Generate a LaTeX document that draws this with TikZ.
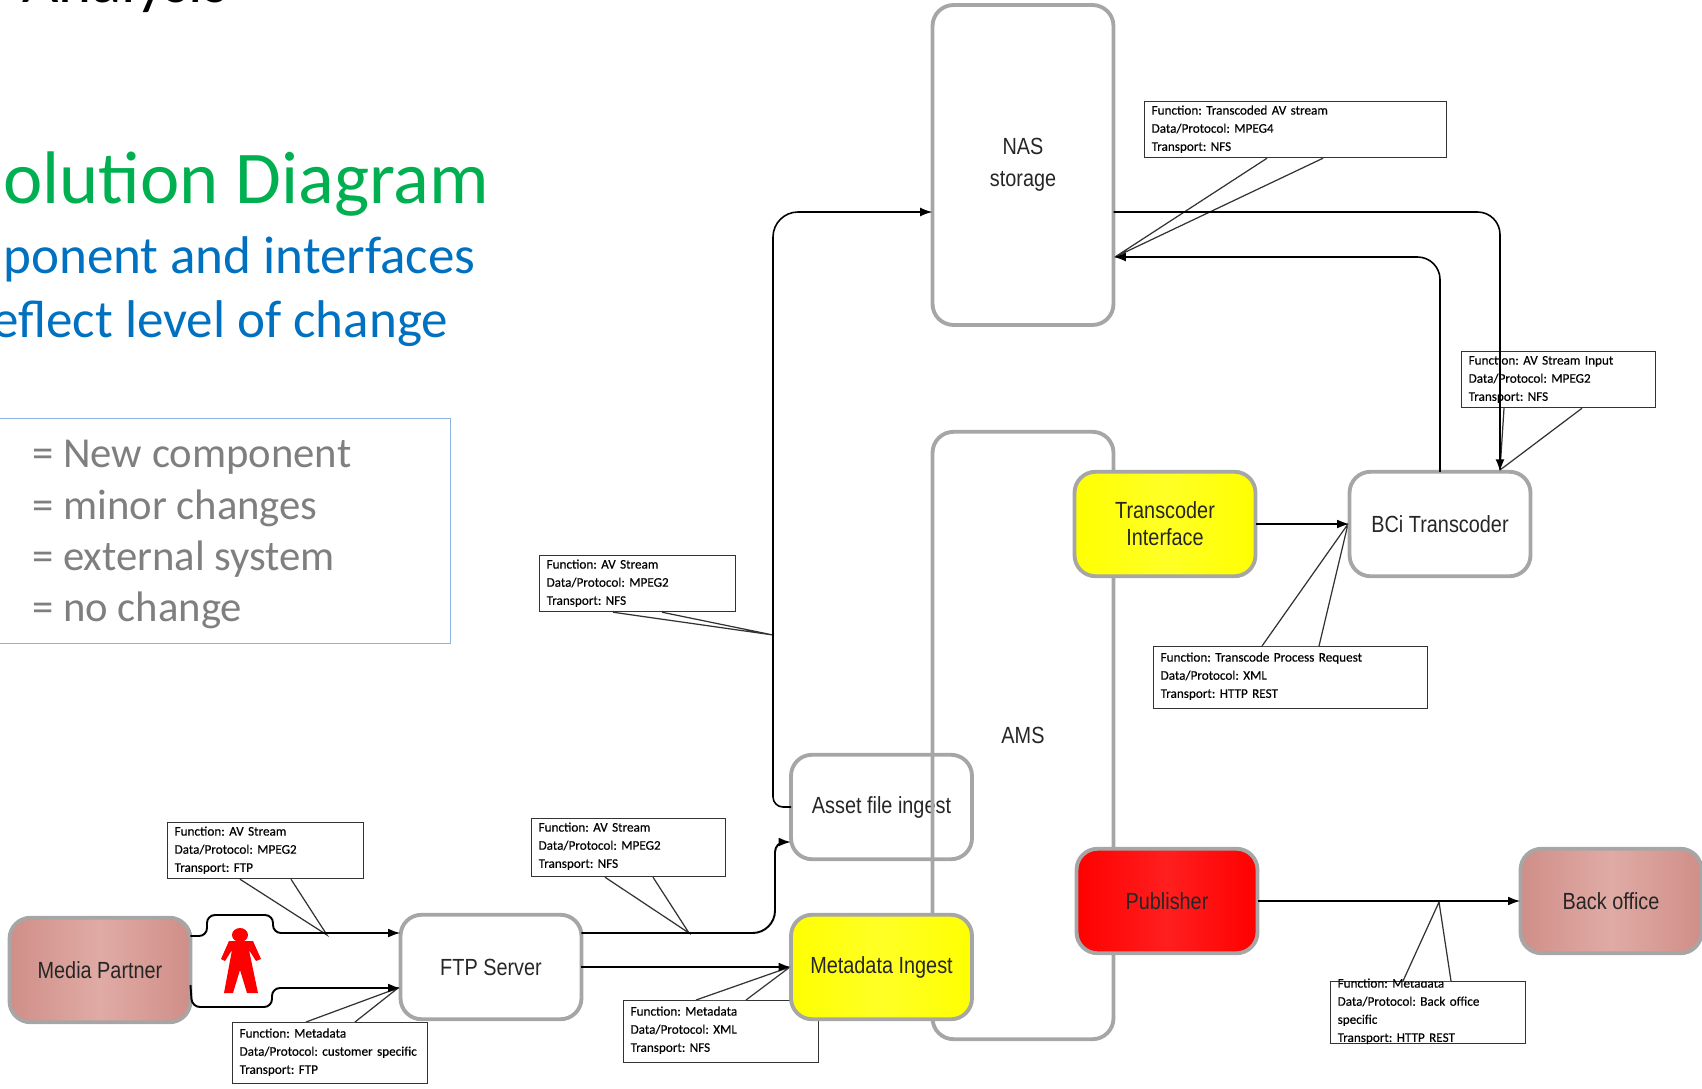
\documentclass[tikz,border=0pt]{standalone}
\usepackage{fontspec}
\setmainfont{Carlito}
\newfontfamily\boxfont[FakeStretch=0.85]{Liberation Sans}
\newfontfamily\callfont[FakeBold=0.35]{Carlito}
\usetikzlibrary{calc,arrows.meta,positioning}

\definecolor{boxgray}{HTML}{A6A6A6}
\definecolor{partnerred}{HTML}{D08E88}
\definecolor{partnerlight}{HTML}{E0ABA5}
\definecolor{solgreen}{HTML}{00B050}
\definecolor{solblue}{HTML}{0070C0}
\definecolor{legendblue}{HTML}{8EB4E3}
\definecolor{legendgray}{HTML}{7F7F7F}

\newcommand{\calltail}[5]{
  \fill[white] (#3,0 |- #1.#2) -- (#5) -- (#4,0 |- #1.#2) -- cycle;
  \draw[tail] (#3,0 |- #1.#2) -- (#5) -- (#4,0 |- #1.#2);
}

\begin{document}
\frenchspacing
\begin{tikzpicture}[x=0.02cm, y=-0.02cm, >={Latex[length=7pt,width=5pt]},
    box/.style={draw=boxgray, line width=2.2pt, rounded corners=0.42cm, minimum width=3.62cm,
      minimum height=2.09cm, align=center, inner sep=0pt, outer sep=0pt,
      font=\boxfont\fontsize{13.3}{18}\selectfont, text=black!85},
    external/.style={box, left color=partnerred, right color=partnerred, middle color=partnerlight},
    minor/.style={box, left color=yellow, right color=yellow, middle color=yellow!85!white},
    newcomp/.style={box, left color=red, right color=red, middle color=red!88!white},
    callout/.style={draw=black!80, line width=0.7pt, fill=white, anchor=north west, align=left,
      inner xsep=0.14cm, inner ysep=0pt, text width=#1, text height=0.26cm, text depth=0.86cm,
      font=\callfont\fontsize{7.5}{10.3}\selectfont},
    tail/.style={draw=black!80, line width=0.7pt},
    flow/.style={->, line width=1.1pt, rounded corners=0.45cm},
    bigtitle/.style={anchor=west, inner sep=0pt, text=solgreen, font=\fontsize{42.4}{46}\selectfont},
    subtitle/.style={anchor=west, inner sep=0pt, text=solblue, font=\fontsize{30.2}{34}\selectfont},
    legendtext/.style={anchor=west, inner sep=0pt, text=legendgray, font=\fontsize{24.3}{28}\selectfont}]
  \clip (0,0) rectangle (1702,1088);

  % texts on the left
  \node[anchor=base west, inner sep=0pt, font=\fontsize{35.8}{40}\selectfont] (analysis) at (22,3) {Analysis};
  \node[bigtitle] (soltitle) at (3,184) {olution Diagram};
  \node[subtitle] (sub1) at (3,259) {ponent and interfaces};
  \node[subtitle] (sub2) at (-8,324) {eflect level of change};

  \node[draw=legendblue, line width=0.8pt, anchor=north west, minimum width=9.2cm, minimum height=4.5cm, inner sep=0pt] (legend) at (-10,418) {};
  \node[legendtext] (leg1) at (32,457) {= New component};
  \node[legendtext] (leg2) at (32,508) {= minor changes};
  \node[legendtext] (leg3) at (32,559) {= external system};
  \node[legendtext] (leg4) at (32,610) {= no change};

  % tips of the callouts
  \coordinate (tip1) at (1115,257);
  \coordinate (tip2) at (1500,470);
  \coordinate (tip3) at (773,635);
  \coordinate (tip4) at (1348,524);
  \coordinate (tip5) at (327,935);
  \coordinate (tip6) at (689,933);
  \coordinate (tip7) at (398,988);
  \coordinate (tip8) at (790,967);
  \coordinate (tip9) at (1439,902);

  \node[callout=5.76cm] (call1) at (1144,101) {Function: Transcoded AV stream\\Data/Protocol: MPEG4\\Transport: NFS};
  \node[callout=3.6cm] (call2) at (1461,351) {Function: AV Stream Input\\Data/Protocol: MPEG2\\Transport: NFS};
  \node[callout=3.64cm] (call3) at (539,555) {Function: AV Stream\\Data/Protocol: MPEG2\\Transport: NFS};
  \node[callout=5.2cm, text height=0.30cm, text depth=0.94cm] (call4) at (1153,646) {Function: Transcode Process Request\\Data/Protocol: XML\\Transport: HTTP REST};
  \node[callout=3.64cm] (call5) at (167,822) {Function: AV Stream\\Data/Protocol: MPEG2\\Transport: FTP};
  \node[callout=3.6cm, text depth=0.90cm] (call6) at (531,818) {Function: AV Stream\\Data/Protocol: MPEG2\\Transport: NFS};
  \node[callout=3.62cm, text height=0.30cm, text depth=0.92cm] (call7) at (232,1022) {Function: Metadata\\Data/Protocol: customer specific\\Transport: FTP};
  \node[callout=3.62cm, text height=0.30cm, text depth=0.94cm] (call8) at (623,1000) {Function: Metadata\\Data/Protocol: XML\\Transport: NFS};
  \node[callout=3.62cm, text height=0.12cm, text depth=1.12cm] (call9) at (1330,981) {Function: Metadata\\Data/Protocol: Back office\\specific\\Transport: HTTP REST};

  \calltail{call1}{south}{1267}{1323}{tip1}
  \calltail{call2}{south}{1504}{1582}{tip2}
  \calltail{call3}{south}{613}{662}{tip3}
  \calltail{call4}{north}{1262}{1319}{tip4}
  \calltail{call5}{south}{240}{291}{tip5}
  \calltail{call6}{south}{605}{653}{tip6}
  \calltail{call7}{north}{306}{355}{tip7}
  \calltail{call8}{north}{696}{746}{tip8}
  \calltail{call9}{north}{1403}{1451}{tip9}

  % components
  \node[box] (asset) at (881.5,807) {Asset file ingest};
  \node[box, minimum height=12.15cm] (ams) at (1023,735.5) {AMS};
  \node[box, minimum height=6.4cm] (nas) at (1023,165) {NAS\\storage};
  \node[external] (partner) at (100,970) {Media Partner};
  \node[box] (ftp) at (491,967) {FTP Server};
  \node[minor] (metadata) at (881.5,967) {Metadata Ingest};
  \node[minor, font=\boxfont\fontsize{13.3}{15.5}\selectfont] (transcoder) at (1165,524) {Transcoder\\Interface};
  \node[box] (bci) at (1440,524) {BCi Transcoder};
  \node[newcomp] (publisher) at (1167,901) {Publisher};
  \node[external] (backoffice) at (1611,901) {Back office};

  % person
  \fill[red] (240,935) ellipse [x radius=8, y radius=7];
  \fill[red] (229,941) -- (253,941) -- (261,959) -- (256,961) -- (249,950) -- (258,993) -- (247,993)
    -- (240,970) -- (233,993) -- (224,993) -- (232,950) -- (225,961) -- (221,959) -- cycle;

  % flows
  \draw[flow, rounded corners=0.16cm] (partner.east |- 0,936) -- (207,936) -- (207,915) -- (273,915) -- (273,933) -- (ftp.west |- 0,933);
  \draw[flow, rounded corners=0.16cm] (partner.east |- 0,985) -- (192,1007) -- (272,1007) -- (272,988) -- (ftp.west |- 0,988);
  \draw[flow] (ftp.east |- 0,933) -- (775,933) [rounded corners=0.2cm] -- (775,842) -- (asset.west |- 0,842);
  \draw[->, line width=1.1pt] (ftp.east) -- (metadata.west);
  \draw[flow, line width=0.9pt] (asset.west) [rounded corners=0.2cm] -- (773,807) [rounded corners=0.5cm] -- (773,212) -- (nas.west |- 0,212);
  \draw[flow, line width=0.9pt] (nas.east |- 0,212) -| ([xshift=1.2cm]bci.north);
  \draw[flow, line width=0.9pt] (bci.north) |- (nas.east |- 0,257);
  \draw[->, line width=1.1pt] (transcoder.east) -- (bci.west);
  \draw[->, line width=1.2pt] (publisher.east) -- (backoffice.west);
\end{tikzpicture}
\end{document}
